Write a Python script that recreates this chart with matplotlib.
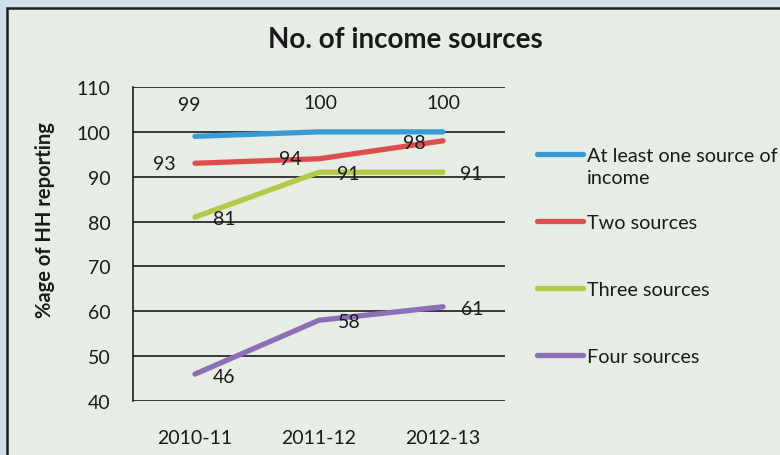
import matplotlib
matplotlib.use("Agg")
import matplotlib.pyplot as plt
from matplotlib.patches import Rectangle
from matplotlib.lines import Line2D

plt.rcParams['font.family'] = ['Lato', 'DejaVu Sans']

years = ["2010-11", "2011-12", "2012-13"]
series_names = ["At least one source of\nincome", "Two sources", "Three sources", "Four sources"]
at_least_one = [99, 100, 100]
two_sources = [93, 94, 98]
three_sources = [81, 91, 91]
four_sources = [46, 58, 61]
y_ticks = [40, 50, 60, 70, 80, 90, 100, 110]

colors = ["#3a9ad6", "#dc4e4e", "#b4c84a", "#8c6fb5"]
# value-label offsets (points) per series, per year
label_offsets = [
    [(-4, 23), (1, 21), (0, 21)],
    [(-22, 0), (-21, 0), (-21, -1)],
    [(21, -1), (21, -1), (20, -1)],
    [(21, -2), (22, -1), (21, -1)],
]

W, H = 780, 456
fig = plt.figure(figsize=(W / 100, H / 100), dpi=100)
fig.patch.set_facecolor("#cde0eb")
panel = Rectangle((7 / W, -0.1), 1.2, 1.1 - 9 / H, transform=fig.transFigure,
                  facecolor="#e6ede4", edgecolor="#1e1e1e", linewidth=1.8, zorder=-10)
fig.patches.append(panel)

ax = fig.add_axes([133 / W, 1 - 402 / H, (505 - 133) / W, (402 - 88) / H])
ax.set_facecolor("none")
ax.set_zorder(2)

all_series = [at_least_one, two_sources, three_sources, four_sources]
x = list(range(len(years)))
for vals, c, offs in zip(all_series, colors, label_offsets):
    ax.plot(x, vals, color=c, linewidth=3.8, solid_capstyle="round", zorder=3)
    for xi, v, (dx, dy) in zip(x, vals, offs):
        ax.annotate(str(v), (xi, v), xytext=(dx, dy), textcoords="offset points",
                    ha="center", va="center", fontsize=14, color="#1a1a1a", zorder=4)

ax.set_xlim(-0.5, 2.5)
ax.set_ylim(40, 110)
ax.set_yticks(y_ticks)
ax.set_xticks(x)
ax.set_xticklabels(years)
ax.yaxis.grid(True, color="#1a1a1a", linewidth=1.2)
ax.set_axisbelow(True)
for side in ["top", "right", "bottom"]:
    ax.spines[side].set_visible(False)
ax.spines["left"].set_color("#1a1a1a")
ax.spines["left"].set_linewidth(1.2)
ax.tick_params(axis="both", length=0, labelsize=14, colors="#1a1a1a")
ax.tick_params(axis="y", pad=16)
ax.tick_params(axis="x", pad=20)

fig.text(405 / W, 1 - 40 / H, "No. of income sources", ha="center", va="center",
         fontsize=20, fontweight="bold", color="#1a1a1a")
fig.text(45 / W, 1 - 220 / H, "%age of HH reporting", ha="center", va="center",
         rotation=90, fontsize=14.5, fontweight="bold", color="#1a1a1a")

# legend drawn at the right side; the handle sits level with the first text line
legend_y = [155, 222, 289, 356]
for name, c, ly in zip(series_names, colors, legend_y):
    fig.add_artist(Line2D([537 / W, 583 / W], [1 - ly / H, 1 - ly / H],
                          transform=fig.transFigure, color=c, linewidth=3.8,
                          solid_capstyle="round"))
    fig.text(587 / W, 1 - (ly - 7) / H, name, ha="left", va="top", fontsize=14.3,
             color="#1a1a1a", linespacing=1.35)

fig.savefig("out.png", dpi=100, facecolor=fig.get_facecolor())
